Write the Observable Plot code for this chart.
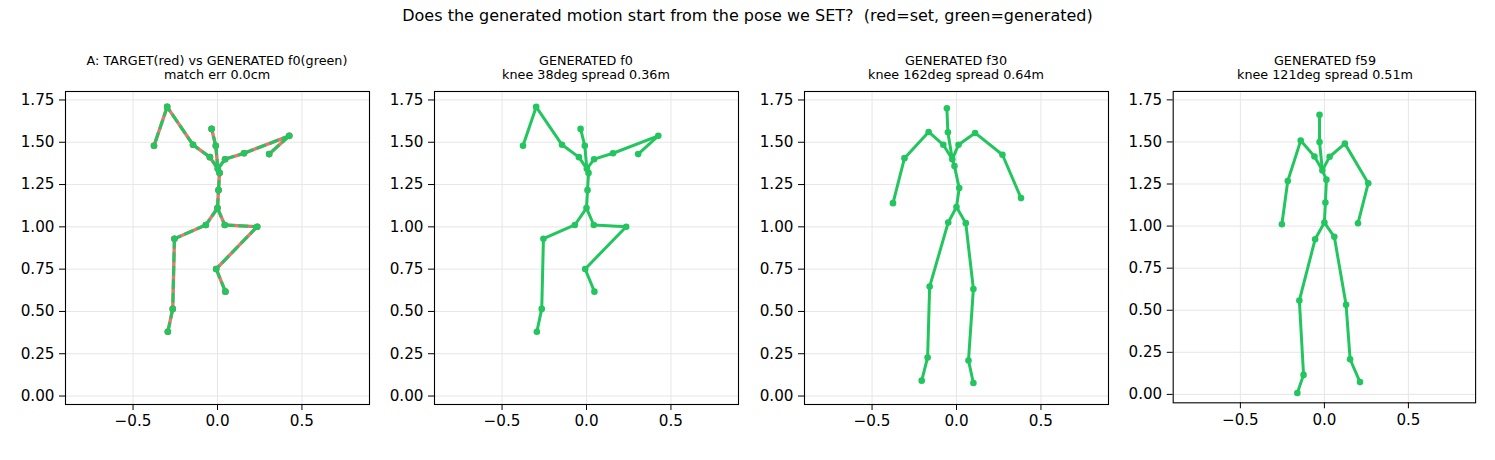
<!DOCTYPE html>
<html>
<head>
<meta charset="utf-8">
<script src="https://cdn.jsdelivr.net/npm/d3@7"></script>
<script src="https://cdn.jsdelivr.net/npm/@observablehq/plot@0.6"></script>
<style>
  html, body { margin: 0; padding: 0; background: #fff; }
  #fig { position: relative; width: 1495px; height: 460px; background: #fff; font-family: "DejaVu Sans", sans-serif; color: #000; overflow: hidden; }
  .suptitle { position: absolute; left: 0; width: 1495px; top: 6px; text-align: center; font-size: 16px; white-space: pre; }
  .ptitle { position: absolute; width: 304px; text-align: center; font-size: 12.75px; line-height: 14px; white-space: pre; }
  .panel { position: absolute; }
</style>
</head>
<body>
<div id="fig"></div>
<script>
// SMPL-style 22-joint skeleton, joints in index order:
// 0 pelvis, 1/2 hips, 3 spine1, 4/5 knees, 6 spine2, 7/8 ankles, 9 spine3,
// 10/11 feet, 12 neck, 13/14 collars, 15 head, 16/17 shoulders,
// 18/19 elbows, 20/21 wrists
const chains = [
  [0, 2, 5, 8, 11],
  [0, 1, 4, 7, 10],
  [0, 3, 6, 9, 12, 15],
  [9, 14, 17, 19, 21],
  [9, 13, 16, 18, 20]
];

// Target pose that was set (metres)
const setX = [0.000, -0.069, 0.043, 0.006, -0.255, 0.235, 0.012, -0.265, -0.008, 0.002, -0.294,
              0.047, -0.010, -0.045, 0.045, -0.035, -0.145, 0.157, -0.298, 0.425, -0.376, 0.306];
const setY = [1.111, 1.011, 1.011, 1.217, 0.930, 1.001, 1.319, 0.515, 0.751, 1.343, 0.380,
              0.617, 1.479, 1.412, 1.400, 1.579, 1.485, 1.435, 1.709, 1.538, 1.479, 1.430];

// Generated motion, frame 0
const f0X = [0.000, -0.069, 0.043, 0.006, -0.255, 0.235, 0.012, -0.265, -0.008, 0.002, -0.294,
             0.047, -0.010, -0.045, 0.045, -0.035, -0.145, 0.157, -0.298, 0.425, -0.376, 0.306];
const f0Y = [1.111, 1.011, 1.011, 1.217, 0.930, 1.001, 1.319, 0.515, 0.751, 1.343, 0.380,
             0.617, 1.479, 1.412, 1.400, 1.579, 1.485, 1.435, 1.709, 1.538, 1.479, 1.430];

// Generated motion, frame 30
const f30X = [0.000, -0.049, 0.055, 0.016, -0.159, 0.100, -0.012, -0.171, 0.071, -0.025, -0.206,
              0.100, -0.051, -0.078, 0.012, -0.057, -0.165, 0.110, -0.308, 0.272, -0.376, 0.382];
const f30Y = [1.117, 1.026, 1.022, 1.229, 0.647, 0.633, 1.359, 0.228, 0.210, 1.400, 0.091,
              0.077, 1.559, 1.485, 1.485, 1.701, 1.561, 1.555, 1.406, 1.426, 1.140, 1.170];

// Generated motion, frame 59
const f59X = [0.000, -0.055, 0.059, 0.006, -0.149, 0.129, 0.012, -0.124, 0.153, -0.012, -0.161,
              0.212, -0.029, -0.059, 0.031, -0.029, -0.141, 0.122, -0.218, 0.261, -0.253, 0.200];
const f59Y = [1.021, 0.922, 0.936, 1.140, 0.558, 0.533, 1.276, 0.116, 0.209, 1.331, 0.008,
              0.073, 1.500, 1.414, 1.412, 1.662, 1.508, 1.490, 1.268, 1.255, 1.011, 1.017];

const suptitle = "Does the generated motion start from the pose we SET?  (red=set, green=generated)";
const panelTitles = [
  ["A: TARGET(red) vs GENERATED f0(green)", "match err 0.0cm"],
  ["GENERATED f0", "knee 38deg spread 0.36m"],
  ["GENERATED f30", "knee 162deg spread 0.64m"],
  ["GENERATED f59", "knee 121deg spread 0.51m"]
];
const xTicks = [-0.5, 0, 0.5];
const yTicks = [0, 0.25, 0.5, 0.75, 1.0, 1.25, 1.5, 1.75];

const RED = "#ef4444";
const GREEN = "#22c55e";

function joints(xs, ys) {
  return xs.map((x, i) => ({x, y: ys[i]}));
}
function bones(xs, ys) {
  const out = [];
  for (const c of chains) {
    for (let k = 0; k < c.length - 1; k++) {
      const a = c[k], b = c[k + 1];
      out.push({x1: xs[a], y1: ys[a], x2: xs[b], y2: ys[b]});
    }
  }
  return out;
}

const panels = [
  {title: panelTitles[0], red: [setX, setY], green: [f0X, f0Y], dashed: true},
  {title: panelTitles[1], green: [f0X, f0Y]},
  {title: panelTitles[2], green: [f30X, f30Y]},
  {title: panelTitles[3], green: [f59X, f59Y]}
];

const fig = document.getElementById("fig");
const st = document.createElement("div");
st.className = "suptitle";
st.textContent = suptitle;
fig.appendChild(st);

const frameLefts = [65, 434, 804, 1173];
const frameTop = 91;
const mL = 60, mR = 20, mT = 10, mB = 40;
const innerW = 304, innerH = 313;
const fmtMinus = s => s.replace("-", "\u2212");

panels.forEach((p, i) => {
  const t = document.createElement("div");
  t.className = "ptitle";
  t.style.left = frameLefts[i] + "px";
  t.style.top = "54px";
  t.textContent = p.title.join("\n");
  fig.appendChild(t);

  const marks = [
    Plot.gridX(xTicks, {stroke: "#e6e6e6", strokeOpacity: 1, strokeWidth: 1}),
    Plot.gridY(yTicks, {stroke: "#e6e6e6", strokeOpacity: 1, strokeWidth: 1})
  ];
  if (p.red) {
    marks.push(Plot.link(bones(...p.red), {x1: "x1", y1: "y1", x2: "x2", y2: "y2",
      stroke: RED, strokeWidth: 3.4, strokeOpacity: 0.75, strokeLinecap: "butt"}));
    marks.push(Plot.dot(joints(...p.red), {x: "x", y: "y", r: 3.3, fill: RED, stroke: "none"}));
  }
  marks.push(Plot.link(bones(...p.green), {x1: "x1", y1: "y1", x2: "x2", y2: "y2",
    stroke: GREEN, strokeWidth: 3, strokeLinecap: "butt",
    strokeDasharray: p.dashed ? "10,3.5" : null}));
  marks.push(Plot.dot(joints(...p.green), {x: "x", y: "y", r: 3.3, fill: GREEN, stroke: "none"}));
  marks.push(Plot.frame({stroke: "#000", strokeWidth: 1.1}));
  marks.push(Plot.axisX(xTicks, {tickSize: 6, tickPadding: 5, tickFormat: d => fmtMinus(d.toFixed(1)), label: null}));
  marks.push(Plot.axisY(yTicks, {tickSize: 6, tickPadding: 5, tickFormat: d => d.toFixed(2), label: null}));

  const chart = Plot.plot({
    width: mL + innerW + mR,
    height: mT + innerH + mB,
    marginLeft: mL, marginRight: mR, marginTop: mT, marginBottom: mB,
    x: {domain: [-0.9, 0.9]},
    y: {domain: [-0.05, 1.8]},
    style: {fontFamily: "DejaVu Sans", fontSize: "15.2px", color: "#000", background: "transparent", overflow: "visible"},
    marks
  });
  const holder = document.createElement("div");
  holder.className = "panel";
  holder.style.left = (frameLefts[i] - mL) + "px";
  holder.style.top = (frameTop - mT) + "px";
  holder.appendChild(chart);
  fig.appendChild(holder);
});
</script>
</body>
</html>
